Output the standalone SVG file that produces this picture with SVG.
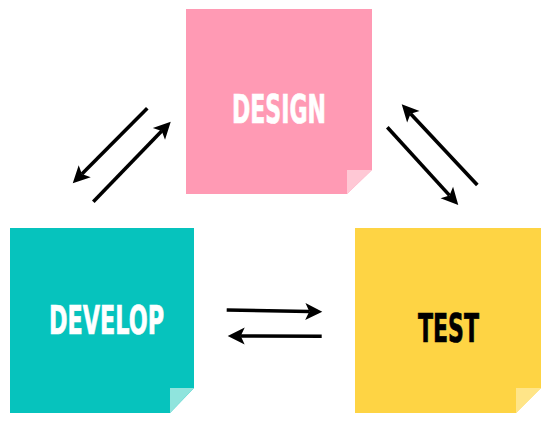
<svg xmlns="http://www.w3.org/2000/svg" width="553" height="422" viewBox="0 0 553 422">
  <style>
    .label { font-family: "Liberation Sans Narrow", "DejaVu Sans Condensed", "Liberation Sans", sans-serif; font-weight: bold; font-size: 39.5px; stroke-width: 0.7; }
    .light { fill: #ffffff; stroke: #ffffff; }
    .dark { fill: #000000; stroke: #000000; }
    .conn { stroke: #000000; stroke-width: 3.6; fill: none; marker-end: url(#head); }
  </style>
  <defs>
    <marker id="head" markerUnits="userSpaceOnUse" markerWidth="20" markerHeight="20" viewBox="-1 -10 20 20" refX="4" refY="0" orient="auto" overflow="visible">
      <path d="M17,0 L0,-8.5 L4,0 L0,8.5 Z" fill="#000000"/>
    </marker>
  </defs>
  <rect width="553" height="422" fill="#ffffff"/>

  <g id="design">
    <path d="M186,9 H372 V170 L347,194 H186 Z" fill="#ff9ab4"/>
    <path d="M347,170 H372 L347,194 Z" fill="#ffc8d5"/>
    <text class="label light" x="232" y="122.5" textLength="94" lengthAdjust="spacingAndGlyphs">DESIGN</text>
  </g>

  <g id="develop">
    <path d="M10,228 H194 V388 L170,413 H10 Z" fill="#06c3bd"/>
    <path d="M170,388 H194 L170,413 Z" fill="#8fe4dd"/>
    <text class="label light" x="49" y="334" textLength="115" lengthAdjust="spacingAndGlyphs">DEVELOP</text>
  </g>

  <g id="test">
    <path d="M355,228 H541 V388 L516,413 H355 Z" fill="#fed444"/>
    <path d="M516,388 H541 L516,413 Z" fill="#ffe588"/>
    <text class="label dark" x="418" y="341.5" textLength="61" lengthAdjust="spacingAndGlyphs">TEST</text>
  </g>

  <g id="connectors">
    <line class="conn" x1="147.3" y1="108.3" x2="81.9" y2="174.1"/>
    <line class="conn" x1="93.3" y1="201.7" x2="161.7" y2="131.0"/>
    <line class="conn" x1="477.3" y1="185" x2="410.6" y2="113.8"/>
    <line class="conn" x1="387.3" y1="127.3" x2="449.5" y2="195.4"/>
    <line class="conn" x1="226.7" y1="310" x2="309.3" y2="311.5"/>
    <line class="conn" x1="321.7" y1="336.3" x2="240.7" y2="336"/>
  </g>
</svg>
